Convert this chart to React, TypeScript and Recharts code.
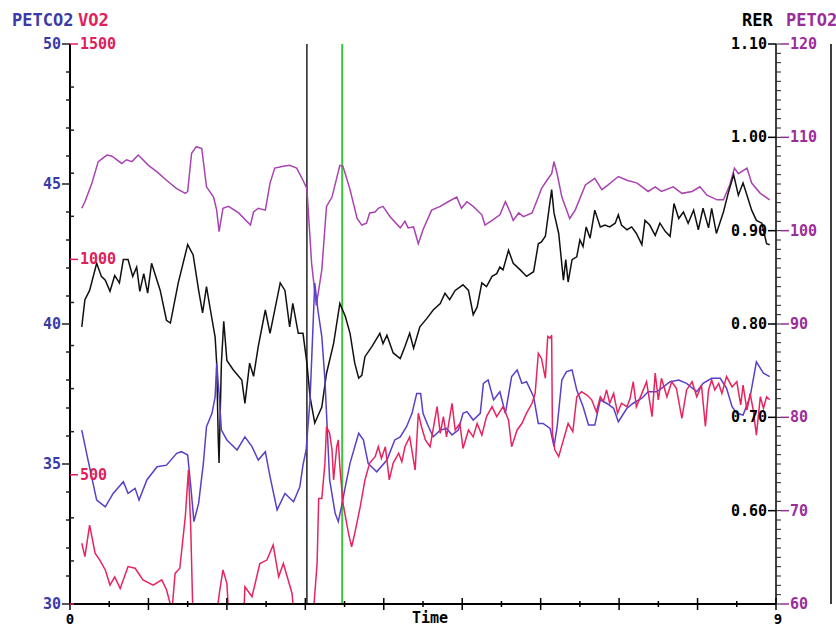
import { Line, LineChart, ReferenceLine, XAxis, YAxis } from 'recharts'

const FONT = '"DejaVu Sans Mono", "Liberation Mono", monospace'

const CO2_LINE = '#5b3fc8'
const CO2_LABEL = '#3b3ba8'
const VO2_LINE = '#e8245e'
const VO2_LABEL = '#e0205a'
const RER_LINE = '#111111'
const O2_LINE = '#a843b0'
const O2_LABEL = '#9b2d9b'

// [minutes, mmHg]
const petco2: [number, number][] = [
  [0.15, 36.21], [0.23, 35.14], [0.34, 33.71], [0.45, 33.47], [0.55, 33.95], [0.68, 34.37], [0.74, 33.95],
  [0.83, 34.13], [0.88, 33.71], [0.98, 34.43], [1.11, 34.9], [1.23, 34.96], [1.36, 35.38], [1.42, 35.44],
  [1.5, 35.32], [1.54, 34.19], [1.58, 32.94], [1.64, 33.6], [1.7, 35.02], [1.74, 36.33], [1.81, 36.81],
  [1.85, 37.4], [1.87, 38.6], [1.9, 37.52], [1.93, 36.21], [2.0, 35.86], [2.13, 35.5], [2.23, 35.97],
  [2.32, 35.62], [2.4, 35.14], [2.49, 35.44], [2.55, 34.55], [2.64, 33.36], [2.74, 33.95], [2.85, 33.65],
  [2.93, 34.19], [2.97, 34.96], [3.01, 35.5], [3.06, 37.29], [3.12, 41.46], [3.16, 40.5], [3.21, 39.55],
  [3.25, 38.0], [3.31, 34.43], [3.38, 33.24], [3.42, 32.94], [3.46, 33.47], [3.51, 34.19], [3.57, 35.03],
  [3.68, 36.1], [3.74, 35.86], [3.8, 35.03], [3.91, 34.72], [4.04, 35.14], [4.14, 35.86], [4.21, 35.97],
  [4.29, 36.33], [4.36, 36.81], [4.42, 37.52], [4.47, 37.52], [4.5, 36.81], [4.57, 36.33], [4.63, 35.97],
  [4.72, 36.21], [4.8, 36.27], [4.87, 36.04], [4.95, 36.21], [5.01, 36.81], [5.06, 36.87], [5.14, 36.57],
  [5.23, 36.81], [5.27, 37.88], [5.33, 38.0], [5.4, 37.29], [5.48, 37.58], [5.55, 36.81], [5.63, 38.12],
  [5.7, 38.36], [5.76, 37.88], [5.82, 37.94], [5.91, 37.4], [5.97, 36.45], [6.03, 36.45], [6.12, 36.27],
  [6.17, 35.62], [6.21, 36.33], [6.27, 38.0], [6.33, 38.3], [6.4, 38.36], [6.46, 37.64], [6.54, 37.05],
  [6.61, 36.39], [6.69, 36.39], [6.76, 37.29], [6.84, 37.17], [6.93, 36.99], [6.99, 36.51], [7.1, 36.99],
  [7.18, 37.17], [7.29, 37.35], [7.37, 37.58], [7.48, 37.58], [7.54, 37.7], [7.65, 37.94], [7.76, 38.0],
  [7.86, 37.88], [7.99, 37.58], [8.07, 37.88], [8.18, 38.06], [8.29, 38.06], [8.37, 37.7], [8.44, 37.05],
  [8.5, 36.81], [8.58, 36.75], [8.67, 37.4], [8.75, 38.65], [8.84, 38.24], [8.92, 38.12],
]

// [minutes, ml/min] - values under 200 run off the bottom of the plot
const vo2: [number, number][] = [
  [0.15, 341], [0.19, 310], [0.25, 383], [0.32, 318], [0.38, 302], [0.45, 279], [0.51, 244], [0.57, 263],
  [0.64, 236], [0.74, 287], [0.83, 283], [0.93, 256], [1.06, 244], [1.17, 256], [1.23, 233], [1.3, 185],
  [1.34, 271], [1.4, 283], [1.47, 403], [1.51, 511], [1.54, 372], [1.57, 150], [1.85, 150], [1.91, 233],
  [1.95, 279], [2.0, 248], [2.03, 150], [2.21, 150], [2.23, 240], [2.32, 217], [2.42, 294], [2.51, 302],
  [2.59, 337], [2.66, 263], [2.72, 294], [2.83, 225], [2.87, 150], [3.09, 150], [3.15, 294], [3.17, 445],
  [3.21, 445], [3.25, 527], [3.27, 612], [3.31, 596], [3.34, 558], [3.36, 488], [3.4, 565], [3.42, 581],
  [3.44, 519], [3.48, 434], [3.55, 364], [3.59, 333], [3.63, 364], [3.7, 426], [3.76, 488], [3.82, 527],
  [3.89, 542], [3.93, 565], [3.97, 538], [4.02, 565], [4.07, 488], [4.12, 527], [4.19, 550], [4.23, 530],
  [4.27, 565], [4.33, 588], [4.4, 511], [4.44, 643], [4.48, 612], [4.53, 581], [4.59, 565], [4.68, 658],
  [4.72, 596], [4.76, 635], [4.8, 588], [4.87, 666], [4.91, 604], [4.97, 619], [5.01, 561], [5.08, 604],
  [5.14, 588], [5.19, 619], [5.25, 592], [5.31, 635], [5.38, 658], [5.44, 635], [5.52, 658], [5.59, 627],
  [5.63, 565], [5.7, 604], [5.76, 619], [5.82, 643], [5.89, 666], [5.93, 689], [5.97, 782], [6.01, 770],
  [6.06, 724], [6.09, 821], [6.12, 817], [6.14, 824], [6.15, 596], [6.18, 558], [6.23, 542], [6.29, 581],
  [6.35, 619], [6.41, 600], [6.46, 681], [6.52, 693], [6.59, 685], [6.65, 674], [6.71, 646], [6.76, 681],
  [6.8, 670], [6.84, 697], [6.88, 666], [6.93, 689], [6.98, 643], [7.03, 666], [7.1, 658], [7.14, 677],
  [7.18, 716], [7.22, 658], [7.29, 689], [7.35, 716], [7.42, 635], [7.46, 736], [7.5, 674], [7.54, 724],
  [7.61, 681], [7.67, 716], [7.73, 701], [7.8, 631], [7.86, 697], [7.93, 716], [7.99, 681], [8.05, 708],
  [8.1, 612], [8.14, 697], [8.18, 720], [8.22, 697], [8.27, 712], [8.31, 689], [8.37, 728], [8.44, 704],
  [8.5, 716], [8.55, 662], [8.58, 708], [8.63, 650], [8.67, 689], [8.71, 650], [8.75, 592], [8.8, 681],
  [8.84, 654], [8.88, 681], [8.92, 674],
]

// [minutes, ratio]
const rer: [number, number][] = [
  [0.15, 0.797], [0.19, 0.826], [0.25, 0.836], [0.34, 0.865], [0.4, 0.851], [0.45, 0.847], [0.51, 0.835],
  [0.57, 0.852], [0.63, 0.844], [0.68, 0.869], [0.74, 0.869], [0.8, 0.851], [0.85, 0.861], [0.89, 0.835],
  [0.94, 0.854], [0.99, 0.833], [1.04, 0.865], [1.15, 0.836], [1.23, 0.804], [1.28, 0.801], [1.38, 0.844],
  [1.5, 0.885], [1.57, 0.874], [1.64, 0.836], [1.69, 0.812], [1.74, 0.84], [1.79, 0.815], [1.85, 0.786],
  [1.87, 0.758], [1.89, 0.676], [1.9, 0.651], [1.93, 0.758], [1.96, 0.803], [2.0, 0.761], [2.08, 0.751],
  [2.19, 0.74], [2.23, 0.715], [2.29, 0.758], [2.34, 0.744], [2.4, 0.776], [2.49, 0.815], [2.55, 0.79],
  [2.68, 0.844], [2.74, 0.836], [2.8, 0.797], [2.84, 0.822], [2.91, 0.79], [2.97, 0.79], [3.02, 0.758],
  [3.06, 0.722], [3.12, 0.694], [3.21, 0.711], [3.27, 0.747], [3.36, 0.779], [3.44, 0.822], [3.51, 0.808],
  [3.57, 0.79], [3.63, 0.758], [3.68, 0.742], [3.72, 0.745], [3.76, 0.765], [3.85, 0.776], [3.95, 0.79],
  [3.99, 0.779], [4.04, 0.788], [4.12, 0.769], [4.21, 0.763], [4.27, 0.776], [4.33, 0.79], [4.38, 0.774],
  [4.46, 0.797], [4.55, 0.806], [4.63, 0.815], [4.72, 0.822], [4.78, 0.833], [4.84, 0.826], [4.91, 0.836],
  [5.01, 0.842], [5.08, 0.836], [5.14, 0.81], [5.19, 0.818], [5.25, 0.844], [5.31, 0.84], [5.38, 0.851],
  [5.44, 0.854], [5.48, 0.861], [5.52, 0.858], [5.59, 0.879], [5.65, 0.865], [5.74, 0.858], [5.82, 0.851],
  [5.91, 0.856], [5.97, 0.886], [6.01, 0.888], [6.06, 0.894], [6.1, 0.919], [6.14, 0.944], [6.17, 0.919],
  [6.23, 0.897], [6.29, 0.847], [6.32, 0.869], [6.35, 0.845], [6.4, 0.869], [6.46, 0.872], [6.5, 0.89],
  [6.54, 0.883], [6.58, 0.904], [6.63, 0.892], [6.69, 0.922], [6.76, 0.904], [6.82, 0.906], [6.88, 0.904],
  [6.95, 0.908], [6.99, 0.917], [7.03, 0.906], [7.1, 0.901], [7.16, 0.904], [7.22, 0.897], [7.29, 0.885],
  [7.33, 0.911], [7.39, 0.906], [7.46, 0.895], [7.52, 0.908], [7.59, 0.899], [7.65, 0.894], [7.7, 0.929],
  [7.76, 0.913], [7.82, 0.92], [7.88, 0.908], [7.95, 0.922], [8.01, 0.901], [8.07, 0.924], [8.14, 0.903],
  [8.18, 0.924], [8.24, 0.897], [8.33, 0.92], [8.39, 0.94], [8.46, 0.96], [8.52, 0.938], [8.58, 0.951],
  [8.63, 0.938], [8.69, 0.922], [8.75, 0.911], [8.82, 0.908], [8.88, 0.886], [8.92, 0.885],
]

// [minutes, mmHg]
const peto2: [number, number][] = [
  [0.15, 102.4], [0.19, 103.1], [0.28, 105.1], [0.36, 107.4], [0.47, 108.1], [0.53, 108.0], [0.66, 107.2],
  [0.72, 107.6], [0.79, 107.4], [0.87, 108.1], [1.0, 107.0], [1.11, 106.3], [1.23, 105.4], [1.36, 104.5],
  [1.47, 104.0], [1.5, 104.2], [1.55, 108.3], [1.61, 109.0], [1.68, 108.8], [1.74, 104.7], [1.83, 103.6],
  [1.87, 102.2], [1.9, 99.9], [1.95, 102.4], [2.02, 102.6], [2.15, 101.9], [2.3, 100.6], [2.34, 102.0],
  [2.4, 102.4], [2.49, 102.2], [2.55, 105.1], [2.61, 106.7], [2.72, 106.9], [2.8, 107.0], [2.89, 106.7],
  [2.97, 105.4], [3.02, 104.5], [3.08, 96.5], [3.14, 92.0], [3.21, 95.8], [3.27, 102.6], [3.34, 103.6],
  [3.44, 107.0], [3.48, 106.9], [3.57, 104.4], [3.66, 101.3], [3.72, 100.6], [3.78, 100.8], [3.82, 101.9],
  [3.89, 102.0], [3.93, 102.4], [3.99, 102.6], [4.08, 101.5], [4.21, 100.3], [4.27, 101.0], [4.31, 100.3],
  [4.38, 100.4], [4.44, 98.6], [4.5, 100.1], [4.61, 102.2], [4.72, 102.6], [4.82, 103.1], [4.93, 103.6],
  [4.99, 102.4], [5.06, 103.1], [5.14, 102.6], [5.25, 101.7], [5.29, 100.6], [5.38, 101.1], [5.48, 101.7],
  [5.55, 103.1], [5.61, 102.0], [5.65, 101.1], [5.72, 101.9], [5.78, 101.5], [5.89, 101.9], [5.97, 103.6],
  [6.01, 104.5], [6.08, 105.4], [6.14, 106.1], [6.17, 107.4], [6.21, 106.1], [6.27, 103.6], [6.37, 101.3],
  [6.44, 102.2], [6.57, 104.9], [6.69, 105.6], [6.78, 104.4], [6.86, 104.9], [6.99, 105.8], [7.1, 105.4],
  [7.23, 105.1], [7.37, 104.2], [7.46, 104.7], [7.54, 104.2], [7.69, 104.7], [7.8, 104.0], [7.93, 104.2],
  [8.03, 104.7], [8.12, 103.8], [8.25, 103.3], [8.33, 103.3], [8.41, 104.9], [8.47, 106.7], [8.52, 106.1],
  [8.63, 106.7], [8.69, 105.1], [8.8, 104.0], [8.92, 103.3],
]

const markerBlack = 3.02
const markerGreen = 3.47

const timeTicks = [0, 0.5, 1, 1.5, 2, 2.5, 3, 3.5, 4, 4.5, 5, 5.5, 6, 6.5, 7, 7.5, 8, 8.5, 9]
const co2Ticks = [30, 31, 32, 33, 34, 35, 36, 37, 38, 39, 40, 41, 42, 43, 44, 45, 46, 47, 48, 49, 50]
const vo2Ticks = [200, 300, 400, 500, 600, 700, 800, 900, 1000, 1100, 1200, 1300, 1400, 1500]
const rerLabels = [0.6, 0.7, 0.8, 0.9, 1.0, 1.1]
const o2Ticks = [60, 70, 80, 90, 100, 110, 120]

// fine ladder on the right axis, one rung per 0.01
const rerTicks = Array.from({ length: 61 }, (_, i) => Math.round((0.5 + i * 0.01) * 100) / 100)

const toPoints = (rows: [number, number][]) => rows.map(([t, v]) => ({ t, v }))

// axis rails in page pixels
const LEFT_X = 70
const RIGHT_X = 776
const RAIL_X = 781
const BOTTOM_Y = 604

const labelStyle = { fontFamily: FONT, fontWeight: 700, fontSize: 15 }

function TimeTick({ x, payload }: any) {
  const v = payload.value as number
  const major = Number.isInteger(v)
  return (
    <g>
      <line x1={x} x2={x} y1={major ? BOTTOM_Y - 6 : BOTTOM_Y - 3} y2={major ? BOTTOM_Y + 6 : BOTTOM_Y + 3}
        stroke="#000" strokeWidth={1.5} />
      {(v === 0 || v === 9) && (
        <text x={v === 9 ? x + 2 : x} y={624} textAnchor="middle" fill="#000"
          style={{ ...labelStyle, fontSize: 14 }}>{v}</text>
      )}
    </g>
  )
}

function Co2Tick({ y, payload }: any) {
  const v = payload.value as number
  const major = v % 5 === 0
  return (
    <g>
      <line x1={major ? LEFT_X - 8 : LEFT_X - 4} x2={LEFT_X} y1={y} y2={y} stroke="#222" strokeWidth={1.5} />
      {major && (
        <text x={LEFT_X - 9} y={y + 5} textAnchor="end" fill={CO2_LABEL} style={labelStyle}>{v}</text>
      )}
    </g>
  )
}

function Vo2Tick({ y, payload }: any) {
  const v = payload.value as number
  const major = v % 500 === 0
  return (
    <g>
      <line x1={LEFT_X} x2={major ? LEFT_X + 8 : LEFT_X + 4} y1={y} y2={y}
        stroke={major || v === 200 ? VO2_LABEL : '#222'} strokeWidth={1.5} />
      {major && (
        <text x={LEFT_X + 10} y={y + 5} textAnchor="start" fill={VO2_LABEL} style={labelStyle}>{v}</text>
      )}
    </g>
  )
}

function RerTick({ y, payload }: any) {
  const v = payload.value as number
  const major = rerLabels.some(l => Math.abs(l - v) < 0.001)
  return (
    <g>
      <line x1={RIGHT_X} x2={RAIL_X} y1={y} y2={y} stroke="#222" strokeWidth={1} />
      {major && (
        <>
          <line x1={RIGHT_X - 8} x2={RIGHT_X} y1={y} y2={y} stroke="#000" strokeWidth={1.5} />
          <text x={RIGHT_X - 9} y={y + 5} textAnchor="end" fill="#000" style={labelStyle}>{v.toFixed(2)}</text>
        </>
      )}
    </g>
  )
}

function O2Tick({ y, payload }: any) {
  const v = payload.value as number
  return (
    <g>
      <line x1={RAIL_X} x2={RAIL_X + 8} y1={y} y2={y} stroke={O2_LABEL} strokeWidth={1.5} />
      <text x={RAIL_X + 9} y={y + 5} textAnchor="start" fill={O2_LABEL} style={labelStyle}>{v}</text>
    </g>
  )
}

function Title({ left, top, color, children, size = 17 }: { left: number; top: number; color: string; children: React.ReactNode; size?: number }) {
  return (
    <div style={{
      position: 'absolute',
      left,
      top,
      color,
      fontFamily: FONT,
      fontWeight: 700,
      fontSize: size,
      lineHeight: `${size}px`,
      whiteSpace: 'nowrap',
    }}>
      {children}
    </div>
  )
}

export default function App() {
  const axisLine = { stroke: '#000', strokeWidth: 2 }
  return (
    <div style={{ position: 'absolute', left: 0, top: 0, width: 836, height: 629, background: '#fff' }}>
      <LineChart width={836} height={629} margin={{ top: 44, right: 0, bottom: 0, left: 0 }}>
        <XAxis
          dataKey="t"
          type="number"
          domain={[0, 9]}
          ticks={timeTicks}
          interval={0}
          height={25}
          tickSize={0}
          tickMargin={0}
          tick={TimeTick}
          axisLine={axisLine}
          allowDataOverflow
        />
        <YAxis yAxisId="co2" orientation="left" width={70} domain={[30, 50]} ticks={co2Ticks} interval={0}
          tickSize={0} tickMargin={0} tick={Co2Tick} axisLine={axisLine} allowDataOverflow />
        <YAxis yAxisId="vo2" orientation="left" mirror domain={[200, 1500]} ticks={vo2Ticks} interval={0}
          tickSize={0} tickMargin={0} tick={Vo2Tick} axisLine={false} allowDataOverflow />
        <YAxis yAxisId="rer" orientation="right" width={5} domain={[0.5, 1.1]} ticks={rerTicks} interval={0}
          tickSize={0} tickMargin={0} tick={RerTick} axisLine={{ stroke: '#000', strokeWidth: 1.5 }} allowDataOverflow />
        <YAxis yAxisId="o2" orientation="right" width={55} domain={[60, 120]} ticks={o2Ticks} interval={0}
          tickSize={0} tickMargin={0} tick={O2Tick} axisLine={{ stroke: '#000', strokeWidth: 1.5 }} allowDataOverflow />

        <ReferenceLine yAxisId="co2" x={markerBlack} stroke="#222" strokeWidth={1.5} />
        <ReferenceLine yAxisId="co2" x={markerGreen} stroke="#3cc43c" strokeWidth={2} />

        <Line yAxisId="o2" data={toPoints(peto2)} dataKey="v" type="linear" stroke={O2_LINE}
          strokeWidth={1.5} dot={false} isAnimationActive={false} />
        <Line yAxisId="rer" data={toPoints(rer)} dataKey="v" type="linear" stroke={RER_LINE}
          strokeWidth={1.5} dot={false} isAnimationActive={false} />
        <Line yAxisId="co2" data={toPoints(petco2)} dataKey="v" type="linear" stroke={CO2_LINE}
          strokeWidth={1.5} dot={false} isAnimationActive={false} />
        <Line yAxisId="vo2" data={toPoints(vo2)} dataKey="v" type="linear" stroke={VO2_LINE}
          strokeWidth={1.5} dot={false} isAnimationActive={false} />
      </LineChart>

      <Title left={12} top={12} color={CO2_LABEL}>PETCO2</Title>
      <Title left={78} top={12} color={VO2_LABEL}>VO2</Title>
      <Title left={742} top={12} color="#000">RER</Title>
      <Title left={786} top={12} color={O2_LABEL}>PETO2</Title>
      <Title left={412} top={611} color="#000" size={15}>Time</Title>
    </div>
  )
}
